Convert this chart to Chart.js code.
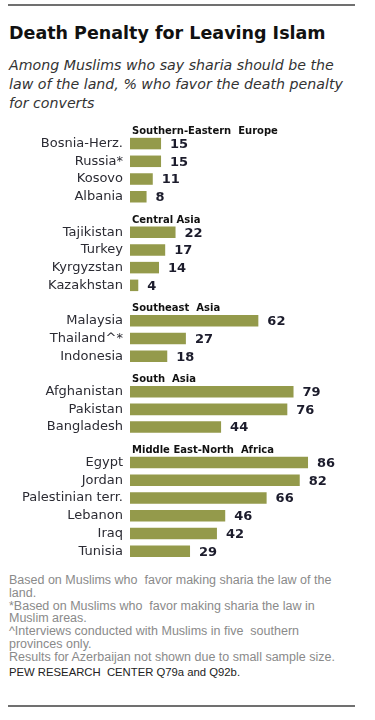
<!DOCTYPE html>
<html lang="en">
<head>
<meta charset="UTF-8">
<title>Death Penalty for Leaving Islam</title>
<script src="https://cdn.jsdelivr.net/npm/chart.js"></script>
<style>
    html, body { margin: 0; padding: 0; background: #fff; }
    body { width: 375px; height: 720px; position: relative; overflow: hidden; font-family: 'DejaVu Sans', sans-serif; }
    .rule { position: absolute; left: 8px; width: 347px; height: 2px; background: #707070; }
    .title { position: absolute; left: 9px; top: 22px; font-size: 17.5px; line-height: 22px; font-weight: bold; color: #111; white-space: nowrap; }
    .subtitle { position: absolute; left: 9px; top: 56px; font-size: 14.2px; line-height: 19px; font-style: italic; color: #333; white-space: nowrap; }
    .notes { position: absolute; left: 9px; top: 574px; font-family: 'Liberation Sans', sans-serif; font-size: 12.5px; line-height: 12.8px; color: #8a8a8a; white-space: nowrap; }
    .source { position: absolute; left: 9px; top: 666px; font-family: 'Liberation Sans', sans-serif; font-size: 11.3px; line-height: 13px; color: #222; white-space: nowrap; }
    #chart { position: absolute; left: 0; top: 117px; }
</style>
</head>
<body>
    <div class="rule" style="top:4px"></div>
    <div class="title">Death Penalty for Leaving Islam</div>
    <div class="subtitle">Among Muslims who say sharia should be the<br>law of the land, % who favor the death penalty<br>for converts</div>

    <canvas id="chart" width="375" height="443"></canvas>

    <div class="notes">Based on Muslims who&nbsp; favor making sharia the law of the<br>land.<br>*Based on Muslims who&nbsp; favor making sharia the law in<br>Muslim areas.<br>^Interviews conducted with Muslims in five&nbsp; southern<br>provinces only.<br>Results for Azerbaijan not shown due to small sample size.</div>
    <div class="source">PEW RESEARCH&nbsp; CENTER Q79a and Q92b.</div>
    <div class="rule" style="top:705px"></div>

<script>
    // regions and their countries, values = % who favor the death penalty
    const regions = ['Southern-Eastern  Europe', 'Central Asia', 'Southeast  Asia', 'South  Asia', 'Middle East-North  Africa'];
    const europe = ['Bosnia-Herz.', 'Russia*', 'Kosovo', 'Albania'];
    const europeVals = [15, 15, 11, 8];
    const centralAsia = ['Tajikistan', 'Turkey', 'Kyrgyzstan', 'Kazakhstan'];
    const centralAsiaVals = [22, 17, 14, 4];
    const southeastAsia = ['Malaysia', 'Thailand^*', 'Indonesia'];
    const southeastAsiaVals = [62, 27, 18];
    const southAsia = ['Afghanistan', 'Pakistan', 'Bangladesh'];
    const southAsiaVals = [79, 76, 44];
    const mena = ['Egypt', 'Jordan', 'Palestinian terr.', 'Lebanon', 'Iraq', 'Tunisia'];
    const menaVals = [86, 82, 66, 46, 42, 29];

    const groupCountries = [europe, centralAsia, southeastAsia, southAsia, mena];
    const groupVals = [europeVals, centralAsiaVals, southeastAsiaVals, southAsiaVals, menaVals];

    // flatten: one empty slot per region header, then its countries
    const labels = [];
    const values = [];
    const headerAt = {};
    regions.forEach((r, i) => {
        headerAt[labels.length] = r;
        labels.push('');
        values.push(null);
        groupCountries[i].forEach((c, j) => {
            labels.push(c);
            values.push(groupVals[i][j]);
        });
    });

    const textPlugin = {
        id: 'texts',
        afterDatasetsDraw(chart) {
            const ctx = chart.ctx;
            const yScale = chart.scales.y;
            ctx.save();
            // value labels
            ctx.font = 'bold 13px "DejaVu Sans"';
            ctx.fillStyle = '#1c1c2c';
            ctx.textAlign = 'left';
            ctx.textBaseline = 'middle';
            chart.getDatasetMeta(0).data.forEach((bar, i) => {
                if (values[i] == null) return;
                ctx.fillText(values[i], bar.x + 9, bar.y + 1);
            });
            // region headers
            ctx.font = 'bold 10px "DejaVu Sans"';
            ctx.fillStyle = '#111';
            Object.keys(headerAt).forEach(k => {
                ctx.fillText(headerAt[k], 132, yScale.getPixelForValue(+k) + 5.5);
            });
            ctx.restore();
        }
    };

    new Chart(document.getElementById('chart'), {
        type: 'bar',
        data: {
            labels: labels,
            datasets: [{
                data: values,
                backgroundColor: '#949a4b',
                barPercentage: 0.65,
                categoryPercentage: 1
            }]
        },
        options: {
            indexAxis: 'y',
            responsive: false,
            animation: false,
            devicePixelRatio: 1,
            layout: { padding: { left: 0, right: 38, top: 0, bottom: 0 } },
            plugins: { legend: { display: false }, tooltip: { enabled: false } },
            scales: {
                x: { min: 0, max: 100, display: false },
                y: {
                    grid: { display: false, drawTicks: false, tickLength: 0 },
                    border: { display: false },
                    afterFit(scale) {
                        scale.width = 130;
                        scale.paddingTop = 0;
                        scale.paddingBottom = 0;
                    },
                    ticks: {
                        autoSkip: false,
                        padding: 7,
                        color: '#2b2b33',
                        font: { family: 'DejaVu Sans', size: 13 }
                    }
                }
            }
        },
        plugins: [textPlugin]
    });
</script>
</body>
</html>
